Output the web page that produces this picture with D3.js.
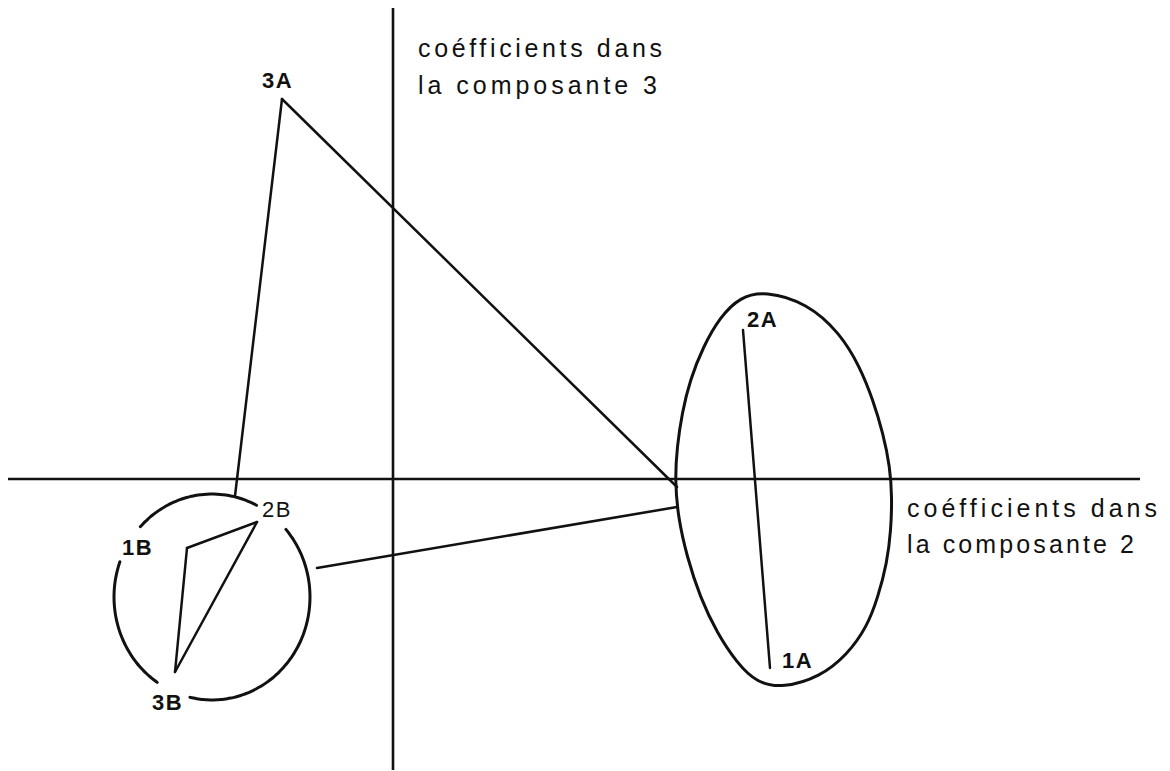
<!DOCTYPE html>
<html>
<head>
<meta charset="utf-8">
<script src="https://cdn.jsdelivr.net/npm/d3@7"></script>
<style>
  body { margin: 0; background: #fff; }
  svg { display: block; }
</style>
</head>
<body>
<svg id="chart" width="1170" height="771"></svg>
<script>
// coefficients (composante 2, composante 3)
let pointNames = ["3A", "2A", "1A", "2B", "1B", "3B"];
let comp2 = [-0.222, 0.700, 0.754, -0.272, -0.412, -0.436];
let comp3 = [0.760, 0.298, -0.378, -0.086, -0.138, -0.386];

// where the connecting lines meet the circle / ellipse
let anchorNames = ["circleTop", "ellipseLeft", "circleRight", "ellipseLink"];
let anchor2 = [-0.316, 0.568, -0.152, 0.568];
let anchor3 = [-0.034, -0.016, -0.178, -0.056];

let links = [
  ["3A", "circleTop"], ["3A", "ellipseLeft"], ["circleRight", "ellipseLink"],
  ["2A", "1A"], ["2B", "1B"], ["1B", "3B"], ["3B", "2B"]
];

// outline around 1A / 2A
let ellipse2 = [0.744, 0.828, 0.894, 0.934, 0.960, 0.980, 0.994, 0.998, 0.996, 0.988, 0.970, 0.948, 0.908, 0.854,
                0.780, 0.728, 0.688, 0.648, 0.614, 0.588, 0.570, 0.564, 0.568, 0.578, 0.594, 0.620, 0.654, 0.694];
let ellipse3 = [0.376, 0.352, 0.292, 0.224, 0.158, 0.092, 0.024, -0.036, -0.102, -0.168, -0.236, -0.296, -0.352, -0.396,
                -0.418, -0.408, -0.368, -0.308, -0.236, -0.156, -0.076, -0.002, 0.064, 0.132, 0.198, 0.264, 0.324, 0.364];

// circle around the B group, drawn in pieces (gaps for the labels)
let circleCenter = [-0.362, -0.236];
let circleRadii = [0.196, 0.206];
let circleArcs = [[-137, -62], [-41, 103], [124, 200]];

let axis2Extent = [-0.77, 1.494];
let axis3Extent = [0.942, -0.582];

let svg = d3.select("#chart");

let x = d3.scaleLinear().domain([0, 1]).range([393, 893]);
let y = d3.scaleLinear().domain([0, 1]).range([479, -21]);

let ink = "#111";

let pos = {};
pointNames.forEach((n, i) => pos[n] = [comp2[i], comp3[i]]);
anchorNames.forEach((n, i) => pos[n] = [anchor2[i], anchor3[i]]);

// axes
svg.append("line")
    .attr("x1", x(axis2Extent[0])).attr("x2", x(axis2Extent[1]))
    .attr("y1", y(0)).attr("y2", y(0))
    .attr("stroke", ink).attr("stroke-width", 2.5);

svg.append("line")
    .attr("x1", x(0)).attr("x2", x(0))
    .attr("y1", y(axis3Extent[0])).attr("y2", y(axis3Extent[1]))
    .attr("stroke", ink).attr("stroke-width", 2.6);

// segments
svg.append("g").selectAll("line")
  .data(links)
  .join("line")
    .attr("x1", d => x(pos[d[0]][0]))
    .attr("y1", d => y(pos[d[0]][1]))
    .attr("x2", d => x(pos[d[1]][0]))
    .attr("y2", d => y(pos[d[1]][1]))
    .attr("stroke", ink)
    .attr("stroke-width", 2.5)
    .attr("stroke-linecap", "round");

// ellipse around the A group
let ellipsePts = ellipse2.map((v, i) => [x(v), y(ellipse3[i])]);
svg.append("path")
    .attr("d", d3.line().curve(d3.curveBasisClosed)(ellipsePts))
    .attr("fill", "none")
    .attr("stroke", ink)
    .attr("stroke-width", 3);

// broken circle around the B group
let cx = x(circleCenter[0]), cy = y(circleCenter[1]);
let rx = x(circleRadii[0]) - x(0), ry = y(0) - y(circleRadii[1]);
let arcLine = d3.line().curve(d3.curveBasis);
svg.append("g").selectAll("path")
  .data(circleArcs)
  .join("path")
    .attr("d", d => {
      let pts = d3.range(d[0], d[1] + 0.1, 2).map(a => {
        let t = a * Math.PI / 180;
        return [cx + rx * Math.cos(t), cy + ry * Math.sin(t)];
      });
      return arcLine(pts);
    })
    .attr("fill", "none")
    .attr("stroke", ink)
    .attr("stroke-width", 3)
    .attr("stroke-linecap", "round");

// point labels
let labelOffset = {
  "3A": [-20, -11], "2A": [4, -3], "1A": [12, 0],
  "2B": [5, -5], "1B": [-65, 7], "3B": [-23, 38]
};
svg.append("g").selectAll("text")
  .data(pointNames)
  .join("text")
    .attr("x", d => x(pos[d][0]) + labelOffset[d][0])
    .attr("y", d => y(pos[d][1]) + labelOffset[d][1])
    .attr("font-family", "Liberation Sans, Arial, sans-serif")
    .attr("font-size", 22)
    .attr("letter-spacing", 1.5)
    .attr("font-weight", d => d === "2B" ? "normal" : "bold")
    .attr("fill", ink)
    .text(d => d);

// axis titles
let titleFont = "Liberation Sans, Arial, sans-serif";
let titles = [
  { lines: ["coéfficients dans", "la composante 3"], lens: [244, 239], x: 418, y: [57, 94] },
  { lines: ["coéfficients dans", "la composante 2"], lens: [250, 227], x: 907, y: [517, 553] }
];
titles.forEach(t => {
  t.lines.forEach((s, i) => {
    svg.append("text")
      .attr("x", t.x)
      .attr("y", t.y[i])
      .attr("font-family", titleFont)
      .attr("font-size", 25)
      .attr("fill", ink)
      .attr("textLength", t.lens[i])
      .attr("lengthAdjust", "spacing")
      .text(s);
  });
});
</script>
</body>
</html>
